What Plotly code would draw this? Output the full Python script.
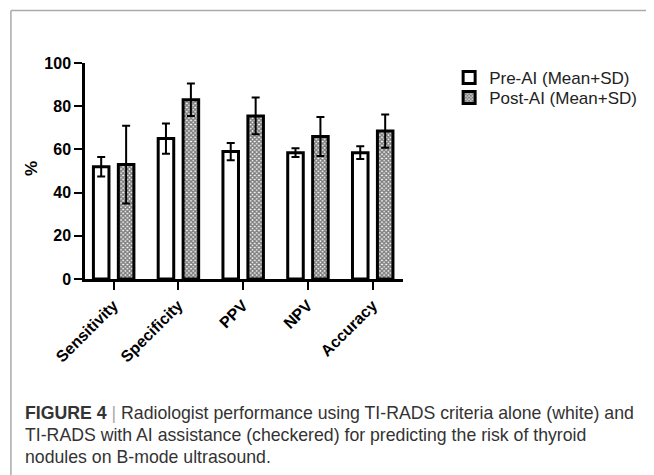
import plotly.graph_objects as go

categories = ["Sensitivity", "Specificity", "PPV", "NPV", "Accuracy"]
pre_mean = [52, 65, 59, 58.5, 58.5]
pre_sd = [4.5, 7, 4, 2, 3]
post_mean = [53, 83, 75.5, 66, 68.5]
post_sd = [18, 7.5, 8.5, 9, 7.7]
y_ticks = [0, 20, 40, 60, 80, 100]
series_names = ["Pre-AI (Mean+SD)", "Post-AI (Mean+SD)"]

FONT = "Liberation Sans, Arial, sans-serif"

# page has an 8px body margin; work in reference pixel coordinates
OFF = 8
W, H = 654 - OFF, 475 - OFF
L, T = 85 - OFF, 63 - OFF
R = W - (409 - OFF)
B = H - (279 - OFF)
pw, ph = W - L - R, H - T - B

def px2x(x):
    return (x - OFF - L) / pw

def px2y(y):
    return (H - B - (y - OFF)) / ph

fig = go.Figure()
fig.add_trace(go.Bar(
    x=categories, y=pre_mean, name=series_names[0], legend="legend",
    width=0.24, offset=-0.31,
    marker=dict(color="white", line=dict(color="black", width=3)),
    error_y=dict(type="data", array=pre_sd, visible=True, color="black", thickness=2, width=4),
))
fig.add_trace(go.Bar(
    x=categories, y=post_mean, name=series_names[1], legend="legend2",
    width=0.24, offset=0.075,
    marker=dict(color="white", line=dict(color="black", width=3),
                pattern=dict(shape="x", size=3, solidity=0.75, fgcolor="black", bgcolor="white")),
    error_y=dict(type="data", array=post_sd, visible=True, color="black", thickness=2, width=4),
))

leg_common = dict(xanchor="left", yanchor="top", font=dict(size=17, color="#222222", family=FONT),
                  bgcolor="rgba(0,0,0,0)", tracegroupgap=0)
fig.update_layout(
    width=W, height=H,
    margin=dict(l=L, r=R, t=T, b=B, pad=0),
    paper_bgcolor="white", plot_bgcolor="white",
    font=dict(family=FONT, color="black"),
    showlegend=True,
    legend=dict(x=px2x(456), y=px2y(60), **leg_common),
    legend2=dict(x=px2x(456), y=px2y(80), **leg_common),
)
fig.update_xaxes(
    range=[-0.44, 4.47], showline=True, linecolor="black", linewidth=2.5,
    ticks="outside", ticklen=8, tickwidth=2, tickcolor="black",
    tickangle=-45, tickfont=dict(size=16, family=FONT, weight="bold"),
    showgrid=False, zeroline=False, automargin=False,
)
fig.update_yaxes(
    range=[0, 100], tickvals=y_ticks, showline=True, linecolor="black", linewidth=2.5,
    ticks="outside", ticklen=8, tickwidth=2, tickcolor="black",
    tickfont=dict(size=16, family=FONT, weight="bold"),
    showgrid=False, zeroline=False, automargin=False,
)

fig.add_annotation(text="<b>%</b>", xref="paper", yref="paper", x=px2x(30), y=px2y(169),
                   xanchor="center", yanchor="middle", textangle=-90, showarrow=False,
                   font=dict(size=17, family=FONT, color="black"))

# frame lines
fig.add_shape(type="line", xref="paper", yref="paper",
              x0=px2x(9.5), x1=px2x(670), y0=px2y(10.5), y1=px2y(10.5),
              line=dict(color="#aaaaaa", width=1.5))
fig.add_shape(type="line", xref="paper", yref="paper",
              x0=px2x(9.5), x1=px2x(9.5), y0=px2y(10.5), y1=px2y(490),
              line=dict(color="#aaaaaa", width=1.5))

caption = [
    "<b>FIGURE 4</b> <span style='color:#aaaaaa'>|</span> Radiologist performance using TI-RADS criteria alone (white) and",
    "TI-RADS with AI assistance (checkered) for predicting the risk of thyroid",
    "nodules on B-mode ultrasound.",
]
for i, line in enumerate(caption):
    fig.add_annotation(text=line, xref="paper", yref="paper",
                       x=px2x(22), y=px2y(413 + 22 * i), xanchor="left", yanchor="middle",
                       showarrow=False, font=dict(size=17.7, family=FONT, color="#333333"), align="left")

fig.write_html("out.html")
